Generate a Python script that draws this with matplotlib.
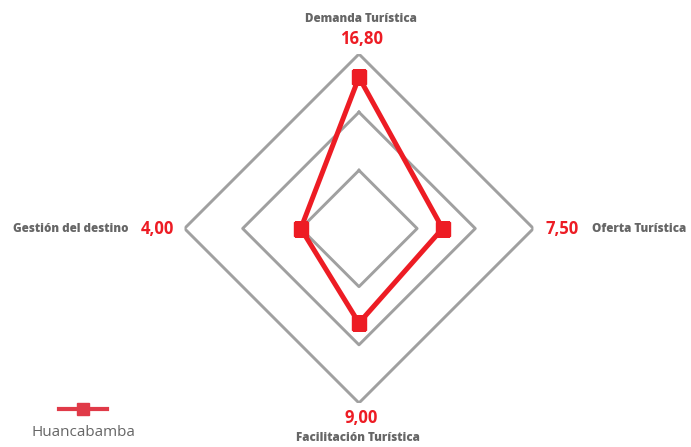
import numpy as np
import matplotlib.pyplot as plt
from matplotlib.lines import Line2D

# radar categories, clockwise from the top
categories = ['Demanda Turística', 'Oferta Turística', 'Facilitación Turística', 'Gestión del destino']
values = [16.80, 7.50, 9.00, 4.00]
value_labels = ['16,80', '7,50', '9,00', '4,00']
series_name = 'Huancabamba'
ring_levels = [4, 12, 20]
r_min, r_max = -4, 20

RED = '#ED1C24'
GRID = '#A0A0A0'
TEXT = '#666666'

plt.rcParams['font.family'] = ['Open Sans', 'DejaVu Sans']

fig = plt.figure(figsize=(6.91, 4.47), dpi=100)
ax = fig.add_axes([0.267, 0.0984, 0.505, 0.7808], projection='polar')
ax.set_theta_zero_location('N')
ax.set_theta_direction(-1)
ax.set_ylim(r_min, r_max)
ax.grid(False)
ax.spines['polar'].set_visible(False)
ax.set_xticks([])
ax.set_yticks([])
ax.patch.set_alpha(0)

angles = np.linspace(0, 2 * np.pi, len(categories), endpoint=False)
closed = np.append(angles, angles[0])

# diamond gridlines
for lvl in ring_levels:
    ax.plot(closed, [lvl] * len(closed), color=GRID, lw=2.1, zorder=1)

vals = np.append(values, values[0])
ax.plot(closed, vals, color=RED, lw=3.6, zorder=3, solid_joinstyle='miter')
ax.plot(angles, values, ls='none', marker='s', ms=10, color=RED, zorder=4)

# (value offset, name offset, alignment) in pixels from the outer vertex
label_layout = [
    ((3, 15), (2, 35), 'center', 'center'),
    ((29, 0), (59, 0), 'center', 'left'),
    ((2, -15), (-1, -35), 'center', 'center'),
    ((-27, 0), (-56, 0), 'center', 'right'),
]
for ang, name, lab, (voff, noff, vha, nha) in zip(angles, categories, value_labels, label_layout):
    ax.annotate(lab, (ang, r_max), xytext=voff, textcoords='offset pixels',
                ha=vha, va='center', color=RED, fontsize=12, fontweight='bold',
                annotation_clip=False)
    ax.annotate(name, (ang, r_max), xytext=noff, textcoords='offset pixels',
                ha=nha, va='center', color=TEXT, fontsize=8.4, fontweight='heavy',
                annotation_clip=False)

# legend key: line with marker, name underneath
key_y = 1 - 409 / 447
fig.add_artist(Line2D([59 / 691, 107 / 691], [key_y, key_y],
                      color='#E03A48', lw=3, transform=fig.transFigure))
fig.add_artist(Line2D([83 / 691], [key_y], color='#E03A48', marker='s',
                      ms=9, ls='none', transform=fig.transFigure))
fig.text(83 / 691, 1 - 433 / 447, series_name, ha='center', va='center',
         color=TEXT, fontsize=11)

fig.savefig('out.png', dpi=100)
